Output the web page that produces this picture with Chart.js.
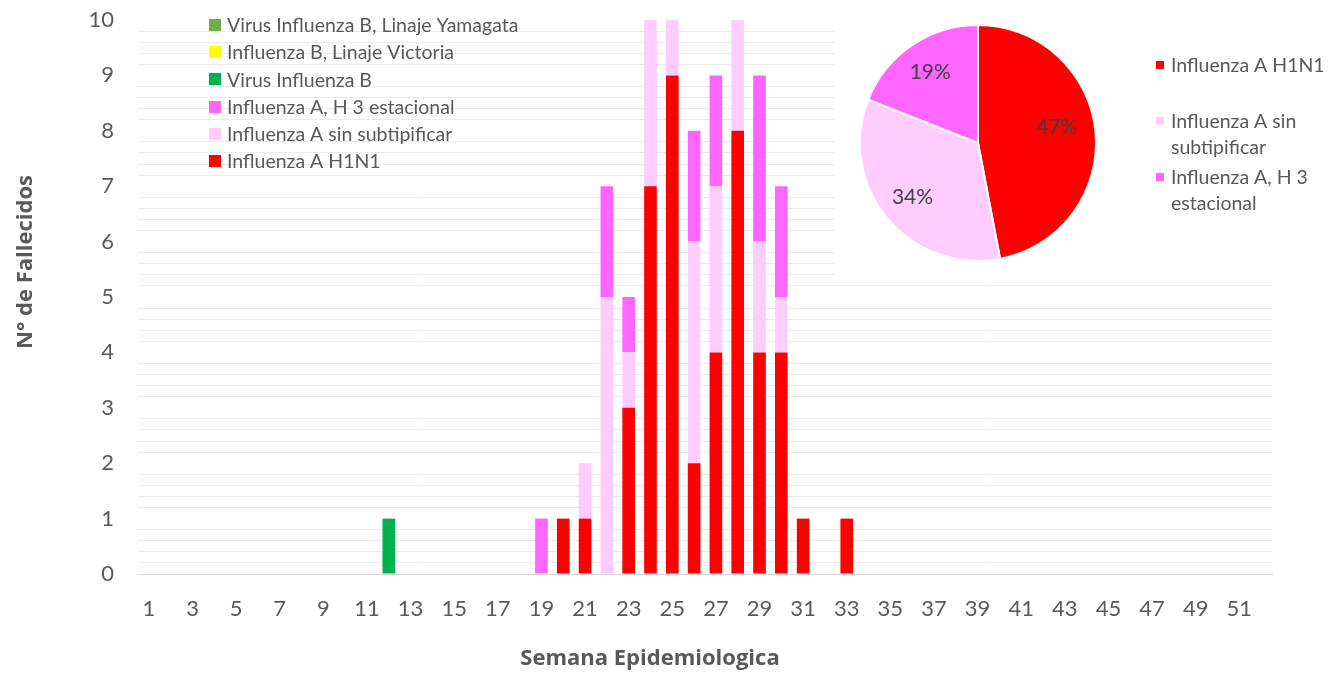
<!DOCTYPE html>
<html>
<head>
<meta charset="utf-8">
<script src="https://cdn.jsdelivr.net/npm/chart.js@4.4.0/dist/chart.umd.min.js"></script>
<style>
html,body{margin:0;padding:0;background:#fff;}
#wrap{position:relative;width:1336px;height:673px;overflow:hidden;}
#bar{position:absolute;left:0;top:0;}
#pieBox{position:absolute;left:835px;top:0;width:501px;height:282px;background:#fff;}
</style>
</head>
<body>
<div id="wrap">
  <canvas id="bar" width="1336" height="673"></canvas>
  <div id="pieBox"><canvas id="pie" width="501" height="282"></canvas></div>
</div>
<script>
// ---- Data ----
const weeks = ['1','2','3','4','5','6','7','8','9','10','11','12','13','14','15','16','17','18','19','20',
  '21','22','23','24','25','26','27','28','29','30','31','32','33','34','35','36','37','38','39','40',
  '41','42','43','44','45','46','47','48','49','50','51','52'];

const h1n1 = [0,0,0,0,0,0,0,0,0,0, 0,0,0,0,0,0,0,0,0,1, 1,0,3,7,9,2,4,8,4,4, 1,0,1,0,0,0,0,0,0,0, 0,0,0,0,0,0,0,0,0,0, 0,0];
const sinSubtipificar = [0,0,0,0,0,0,0,0,0,0, 0,0,0,0,0,0,0,0,0,0, 1,5,1,3,1,4,3,2,2,1, 0,0,0,0,0,0,0,0,0,0, 0,0,0,0,0,0,0,0,0,0, 0,0];
const h3Estacional = [0,0,0,0,0,0,0,0,0,0, 0,0,0,0,0,0,0,0,1,0, 0,2,1,0,0,2,2,0,3,2, 0,0,0,0,0,0,0,0,0,0, 0,0,0,0,0,0,0,0,0,0, 0,0];
const virusB = [0,0,0,0,0,0,0,0,0,0, 0,1,0,0,0,0,0,0,0,0, 0,0,0,0,0,0,0,0,0,0, 0,0,0,0,0,0,0,0,0,0, 0,0,0,0,0,0,0,0,0,0, 0,0];
const linajeVictoria = [0,0,0,0,0,0,0,0,0,0, 0,0,0,0,0,0,0,0,0,0, 0,0,0,0,0,0,0,0,0,0, 0,0,0,0,0,0,0,0,0,0, 0,0,0,0,0,0,0,0,0,0, 0,0];
const linajeYamagata = [0,0,0,0,0,0,0,0,0,0, 0,0,0,0,0,0,0,0,0,0, 0,0,0,0,0,0,0,0,0,0, 0,0,0,0,0,0,0,0,0,0, 0,0,0,0,0,0,0,0,0,0, 0,0];

const seriesNames = ['Influenza A H1N1','Influenza A sin subtipificar','Influenza A, H 3 estacional',
  'Virus Influenza B','Influenza B, Linaje Victoria','Virus Influenza B, Linaje Yamagata'];
const seriesColors = ['#FF0000','#FFCCFF','#FF66FF','#00B050','#FFFF00','#70AD47'];

const pieLabels = ['Influenza A H1N1','Influenza A sin subtipificar','Influenza A, H 3 estacional'];
const pieValues = [47, 34, 19];
const pieColors = ['#FF0000','#FFCCFF','#FF66FF'];

const yAxisTitle = 'N° de Fallecidos';
const xAxisTitle = 'Semana Epidemiologica';

// ---- Styling ----
const TXT = '#595959';
const FONT = 'Lato';

const barDecor = {
  id: 'barDecor',
  beforeDraw(chart) {
    const c = chart.ctx; c.save(); c.fillStyle = '#fff'; c.fillRect(0,0,chart.width,chart.height); c.restore();
  },
  afterDraw(chart) {
    const c = chart.ctx; c.save();
    c.font = '19.5px ' + FONT; c.textBaseline = 'middle'; c.textAlign = 'left';
    const ds = chart.data.datasets.slice().reverse();
    ds.forEach((d, i) => {
      const y = 25 + i * 27.2;
      c.fillStyle = d.backgroundColor; c.fillRect(209, Math.round(y - 6), 12, 12);
      c.fillStyle = TXT; c.fillText(d.label, 227, y + 1);
    });
    c.font = 'bold 22px "Open Sans"'; c.textAlign = 'center'; c.fillStyle = TXT;
    c.fillText(xAxisTitle, 650, 659);
    c.translate(26, 262); c.rotate(-Math.PI / 2); c.fillText(yAxisTitle, 0, 0);
    c.restore();
  }
};

const series = [h1n1, sinSubtipificar, h3Estacional, virusB, linajeVictoria, linajeYamagata];

new Chart(document.getElementById('bar'), {
  type: 'bar',
  data: {
    labels: weeks,
    datasets: series.map((arr, i) => ({
      label: seriesNames[i], data: arr, backgroundColor: seriesColors[i], borderWidth: 0,
      barPercentage: 0.58, categoryPercentage: 1.0
    }))
  },
  options: {
    responsive: false, animation: false,
    layout: { padding: { left: 0, right: 64, top: 20, bottom: 0 } },
    plugins: { legend: { display: false }, tooltip: { enabled: false } },
    scales: {
      x: {
        stacked: true,
        afterFit(s) { s.height = 99; },
        grid: { display: false, drawTicks: false },
        border: { display: true, color: '#d9d9d9', width: 1 },
        ticks: {
          autoSkip: false, maxRotation: 0, minRotation: 0, padding: 22,
          color: TXT, font: { family: FONT, size: 22 },
          callback: (v, i) => (i % 2 === 0 ? weeks[i] : '')
        }
      },
      y: {
        stacked: true, min: 0, max: 10,
        afterFit(s) { s.width = 138; s.paddingTop = 0; s.paddingBottom = 0; },
        border: { display: false },
        grid: {
          drawTicks: false,
          color: (ctx) => {
            const v = ctx.tick ? ctx.tick.value : 0;
            return Math.abs(v - Math.round(v)) < 1e-6 ? 'rgba(0,0,0,0)' : '#ebebeb';
          },
          lineWidth: 1
        },
        ticks: {
          stepSize: 0.2, autoSkip: false, maxTicksLimit: 200, padding: 24,
          color: TXT, font: { family: FONT, size: 22 },
          callback: (v) => (Math.abs(v - Math.round(v)) < 1e-6 ? String(Math.round(v)) : '')
        }
      }
    }
  },
  plugins: [barDecor]
});

// ---- Pie ----
function wrapText(c, text, maxW) {
  const words = text.split(' '); const lines = []; let cur = '';
  words.forEach(w => {
    const t = cur ? cur + ' ' + w : w;
    if (c.measureText(t).width > maxW && cur) { lines.push(cur); cur = w; } else cur = t;
  });
  if (cur) lines.push(cur);
  return lines;
}

const pieDecor = {
  id: 'pieDecor',
  beforeDraw(chart) {
    const c = chart.ctx; c.save(); c.fillStyle = '#fff'; c.fillRect(0,0,chart.width,chart.height); c.restore();
  },
  afterDatasetsDraw(chart) {
    const c = chart.ctx; c.save();
    const meta = chart.getDatasetMeta(0);
    const data = chart.data.datasets[0].data;
    c.font = '21px ' + FONT; c.fillStyle = '#404040'; c.textAlign = 'center'; c.textBaseline = 'middle';
    const labelR = [0.68, 0.72, 0.72];
    const labelShift = [-0.1, 0, 0];
    meta.data.forEach((arc, i) => {
      const p = arc.getProps(['x','y','startAngle','endAngle','outerRadius'], true);
      const mid = (p.startAngle + p.endAngle) / 2 + labelShift[i];
      const r = p.outerRadius * labelR[i];
      c.fillText(data[i] + '%', p.x + Math.cos(mid) * r, p.y + Math.sin(mid) * r);
    });
    // legend
    c.font = '19.5px ' + FONT; c.textAlign = 'left'; c.fillStyle = TXT;
    const tops = [65, 121, 177];
    chart.data.labels.forEach((lab, i) => {
      const lines = wrapText(c, lab, 165);
      c.fillStyle = chart.data.datasets[0].backgroundColor[i];
      c.fillRect(321, tops[i] - 4, 8, 8);
      c.fillStyle = TXT;
      lines.forEach((ln, j) => c.fillText(ln, 336, tops[i] + j * 26 + 1));
    });
    c.restore();
  }
};

new Chart(document.getElementById('pie'), {
  type: 'pie',
  data: { labels: pieLabels, datasets: [{ data: pieValues, backgroundColor: pieColors, borderColor: '#ffffff', borderWidth: 2 }] },
  options: {
    responsive: false, animation: false,
    layout: { padding: { left: 24, top: 24, right: 239, bottom: 20 } },
    plugins: { legend: { display: false }, tooltip: { enabled: false } }
  },
  plugins: [pieDecor]
});
</script>
</body>
</html>
